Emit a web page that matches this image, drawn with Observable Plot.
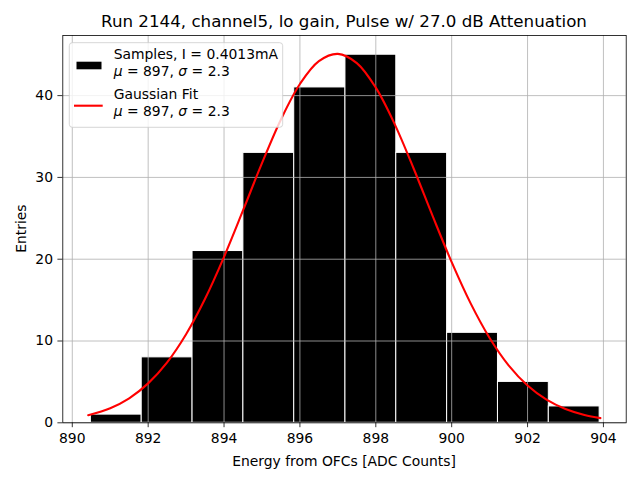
<!DOCTYPE html>
<html>
<head>
<meta charset="utf-8">
<script src="https://cdn.jsdelivr.net/npm/d3@7"></script>
<script src="https://cdn.jsdelivr.net/npm/@observablehq/plot@0.6"></script>
<style>
  html, body { margin: 0; padding: 0; background: white; }
  #chart { width: 640px; height: 480px; }
</style>
</head>
<body>
<div id="chart"></div>
<script>
// ---- data ----
const binEdges = [890.49, 891.83, 893.17, 894.51, 895.85, 897.20, 898.54, 899.88, 901.22, 902.56, 903.90];
const binCounts = [1, 8, 21, 33, 41, 45, 33, 11, 5, 2];

const fitX = [890.42, 891.0, 891.5, 892.0, 892.5, 893.0, 893.5, 894.0, 894.5, 895.0, 895.5, 896.0, 896.5, 897.0,
              897.5, 898.0, 898.5, 899.0, 899.5, 900.0, 900.5, 901.0, 901.5, 902.0, 902.5, 903.0, 903.5, 903.92];
const fitY = [0.93, 1.79, 3.00, 4.82, 7.39, 10.83, 15.16, 20.29, 25.96, 31.74, 37.09, 41.42, 44.21, 45.10,
              43.97, 40.97, 36.49, 31.06, 25.26, 19.64, 14.60, 10.37, 7.03, 4.56, 2.83, 1.68, 0.95, 0.57];

const xTicks = [890, 892, 894, 896, 898, 900, 902, 904];
const yTicks = [0, 10, 20, 30, 40];

const titleText = "Run 2144, channel5, lo gain, Pulse w/ 27.0 dB Attenuation";
const xLabel = "Energy from OFCs [ADC Counts]";
const yLabel = "Entries";
const legendSamples = ["Samples, I = 0.4013mA", "897", "2.3"];
const legendFit = ["Gaussian Fit", "897", "2.3"];

// ---- tables built from the arrays ----
const bins = binCounts.map((c, i) => ({x1: binEdges[i], x2: binEdges[i + 1], count: c}));
const fit = fitX.map((x, i) => ({x, y: fitY[i]}));

const W = 640, H = 480;
const mL = 62.3, mR = 14.3, mT = 35, mB = 57.7;
const FONT = "DejaVu Sans";

const svg = Plot.plot({
  width: W, height: H,
  marginLeft: mL, marginRight: mR, marginTop: mT, marginBottom: mB,
  style: {fontFamily: FONT, fontSize: "13.9px", color: "black", background: "white", overflow: "visible"},
  x: {domain: [889.75, 904.6], label: null},
  y: {domain: [0, 47.35], label: null},
  marks: [
    Plot.rectY(bins, {x1: "x1", x2: "x2", y: "count", fill: "black", stroke: "white", strokeWidth: 1, inset: 0}),
    Plot.gridX({ticks: xTicks, stroke: "#b0b0b0", strokeOpacity: 1, strokeWidth: 0.8}),
    Plot.gridY({ticks: yTicks, stroke: "#b0b0b0", strokeOpacity: 1, strokeWidth: 0.8}),
    Plot.line(fit, {x: "x", y: "y", stroke: "red", strokeWidth: 2.1, curve: "catmull-rom"}),
    Plot.frame({stroke: "black", strokeWidth: 0.8}),
    Plot.axisX({ticks: xTicks, tickSize: 4.9, tickPadding: 5.2, tickFormat: d => String(d), label: null, strokeWidth: 0.8}),
    Plot.axisY({ticks: yTicks, tickSize: 4.9, tickPadding: 4.9, tickFormat: d => String(d), label: null, strokeWidth: 0.8})
  ]
});

document.getElementById("chart").appendChild(svg);

const s = d3.select(svg);
const cx = mL + (W - mL - mR) / 2;

// title
s.append("text").attr("x", cx).attr("y", 27.3).attr("text-anchor", "middle")
  .attr("font-family", FONT).attr("font-size", 16.7).attr("fill", "black").text(titleText);
// x label
s.append("text").attr("x", cx).attr("y", 465.7).attr("text-anchor", "middle")
  .attr("font-family", FONT).attr("font-size", 13.9).attr("fill", "black").text(xLabel);
// y label
const cy = mT + (H - mT - mB) / 2;
s.append("text").attr("transform", `translate(26,${cy}) rotate(-90)`).attr("text-anchor", "middle")
  .attr("font-family", FONT).attr("font-size", 13.9).attr("fill", "black").text(yLabel);

// legend
const lg = s.append("g").attr("font-family", FONT).attr("font-size", 13.9).attr("fill", "black")
  .attr("text-anchor", "start");
lg.append("rect").attr("x", 69.3).attr("y", 42.7).attr("width", 213.4).attr("height", 84.6).attr("rx", 3)
  .attr("fill", "white").attr("fill-opacity", 0.8).attr("stroke", "#cccccc").attr("stroke-width", 0.8);
lg.append("rect").attr("x", 76.5).attr("y", 61.7).attr("width", 25).attr("height", 7.6).attr("fill", "black");
lg.append("line").attr("x1", 74).attr("x2", 102.7).attr("y1", 105.7).attr("y2", 105.7)
  .attr("stroke", "red").attr("stroke-width", 2.1);

function muSigma(y, mu, sig) {
  const t = lg.append("text").attr("x", 113.7).attr("y", y).attr("text-anchor", "start");
  t.append("tspan").attr("font-style", "italic").text("μ");
  t.append("tspan").text(` = ${mu}, `);
  t.append("tspan").attr("font-style", "italic").text("σ");
  t.append("tspan").text(` = ${sig}`);
}
lg.append("text").attr("x", 113.7).attr("y", 59.2).attr("text-anchor", "start").text(legendSamples[0]);
muSigma(75.7, legendSamples[1], legendSamples[2]);
lg.append("text").attr("x", 113.7).attr("y", 99.3).attr("text-anchor", "start").text(legendFit[0]);
muSigma(115.8, legendFit[1], legendFit[2]);
</script>
</body>
</html>
